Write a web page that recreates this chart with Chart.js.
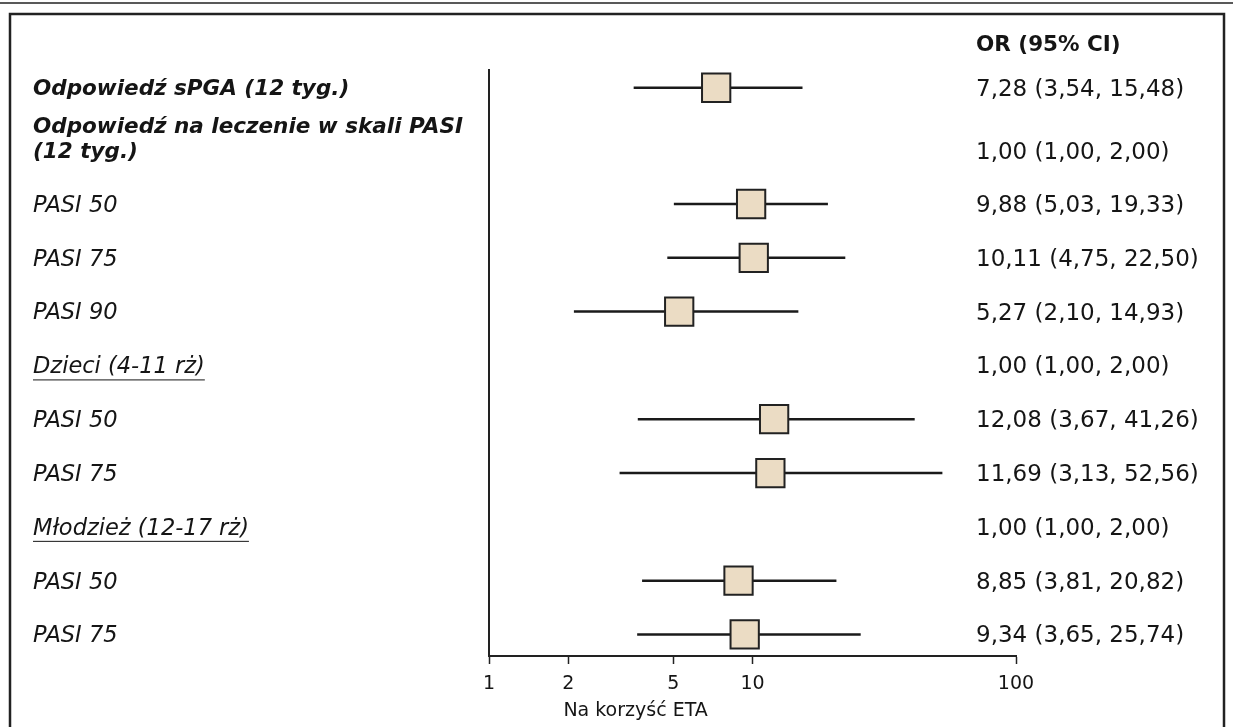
<!DOCTYPE html>
<html>
<head>
<meta charset="utf-8">
<script src="https://cdn.jsdelivr.net/npm/chart.js@4/dist/chart.umd.min.js"></script>
<style>
body { margin: 0; background: #fff; }
#wrap { width: 1233px; height: 727px; }
</style>
</head>
<body>
<div id="wrap"><canvas id="chart" width="1233" height="727"></canvas></div>
<script>
// rows, top to bottom
const rowLabels = [
    ["Odpowiedź sPGA (12 tyg.)"],
    ["Odpowiedź na leczenie w skali PASI", "(12 tyg.)"],
    ["PASI 50"],
    ["PASI 75"],
    ["PASI 90"],
    ["Dzieci (4-11 rż)"],
    ["PASI 50"],
    ["PASI 75"],
    ["Młodzież (12-17 rż)"],
    ["PASI 50"],
    ["PASI 75"]
];
const labelStyles = ["bold", "bold", "italic", "italic", "italic", "under", "italic", "italic", "under", "italic", "italic"];
const rowPos = [0, 1.17, 2.16, 3.16, 4.16, 5.16, 6.16, 7.16, 8.16, 9.16, 10.16];

const orValues = [7.28, null, 9.88, 10.11, 5.27, null, 12.08, 11.69, null, 8.85, 9.34];
const ciLow = [3.54, null, 5.03, 4.75, 2.10, null, 3.67, 3.13, null, 3.81, 3.65];
const ciHigh = [15.48, null, 19.33, 22.50, 14.93, null, 41.26, 52.56, null, 20.82, 25.74];
const orText = [
    "7,28 (3,54, 15,48)",
    "1,00 (1,00, 2,00)",
    "9,88 (5,03, 19,33)",
    "10,11 (4,75, 22,50)",
    "5,27 (2,10, 14,93)",
    "1,00 (1,00, 2,00)",
    "12,08 (3,67, 41,26)",
    "11,69 (3,13, 52,56)",
    "1,00 (1,00, 2,00)",
    "8,85 (3,81, 20,82)",
    "9,34 (3,65, 25,74)"
];
const orHeader = "OR (95% CI)";
const xTicks = [1, 2, 5, 10, 100];
const xTitle = "Na korzyść ETA";

const FONT = "'DejaVu Sans', Verdana, sans-serif";
const INK = "#151515";

// one line dataset per confidence interval
const whiskers = [];
for (let i = 0; i < orValues.length; i++) {
    if (orValues[i] === null) continue;
    whiskers.push({
        type: "line",
        data: [{x: ciLow[i], y: rowPos[i]}, {x: ciHigh[i], y: rowPos[i]}],
        borderColor: "#1a1a1a",
        borderWidth: 2.5,
        pointRadius: 0,
        fill: false,
        order: 1
    });
}

const squares = {
    type: "scatter",
    data: orValues.map((v, i) => v === null ? null : ({x: v, y: rowPos[i]})).filter(p => p),
    pointStyle: "rect",
    pointRadius: 20,
    pointHoverRadius: 20,
    backgroundColor: "#ebdcc4",
    borderColor: "#222",
    borderWidth: 2,
    order: 0
};

const framePlugin = {
    id: "frame",
    beforeDraw(chart) {
        const c = chart.ctx;
        c.save();
        c.fillStyle = "#fff";
        c.fillRect(0, 0, chart.width, chart.height);
        c.strokeStyle = "#222";
        c.lineWidth = 1.5;
        c.beginPath();
        c.moveTo(0, 3);
        c.lineTo(chart.width, 3);
        c.stroke();
        c.lineWidth = 2.5;
        c.strokeRect(10, 14, chart.width - 19, chart.height + 20);
        c.restore();
    }
};

const textPlugin = {
    id: "rowText",
    afterDraw(chart) {
        const c = chart.ctx;
        const ys = chart.scales.y;
        const xs = chart.scales.x;
        c.save();
        c.fillStyle = INK;
        c.strokeStyle = INK;
        c.textBaseline = "middle";
        c.textAlign = "left";

        for (let i = 0; i < rowLabels.length; i++) {
            const y = ys.getPixelForValue(rowPos[i]);
            const lines = rowLabels[i];
            const st = labelStyles[i];
            c.font = st === "bold" ? "italic bold 21.5px " + FONT : "italic 22.5px " + FONT;
            lines.forEach((ln, k) => {
                const ly = y + 2 - (lines.length - 1 - k) * 25;
                c.fillText(ln, 33, ly);
                if (st === "under") {
                    const w = c.measureText(ln).width;
                    c.lineWidth = 1;
                    c.beginPath();
                    c.moveTo(33, ly + 12.5);
                    c.lineTo(33 + w, ly + 12.5);
                    c.stroke();
                }
            });

            c.font = "23px " + FONT;
            c.fillText(orText[i], 976, y + 2);
        }

        c.font = "bold 21.5px " + FONT;
        c.fillText(orHeader, 976, ys.getPixelForValue(-0.78));

        c.font = "19px " + FONT;
        c.textAlign = "center";
        c.fillText(xTitle, xs.getPixelForValue(3.6), 711);
        c.restore();
    }
};

const ctx = document.getElementById("chart").getContext("2d");

const chart = new Chart(ctx, {
    type: "scatter",
    data: {
        datasets: [squares, ...whiskers]
    },
    options: {
        responsive: false,
        animation: false,
        events: [],
        layout: {
            padding: {left: 489, right: 217, top: 70, bottom: 0}
        },
        plugins: {
            legend: {display: false},
            tooltip: {enabled: false}
        },
        scales: {
            x: {
                type: "logarithmic",
                min: 1,
                max: 100,
                afterBuildTicks: (s) => { s.ticks = xTicks.map(v => ({value: v})); },
                afterFit: (s) => { s.height = 71; },
                grid: {
                    display: true,
                    drawOnChartArea: false,
                    drawTicks: true,
                    tickLength: 8,
                    tickWidth: 1.5,
                    tickColor: "#222"
                },
                border: {display: true, color: "#222", width: 2},
                ticks: {
                    color: INK,
                    font: {family: FONT, size: 19},
                    padding: 9,
                    maxRotation: 0,
                    autoSkip: false,
                    callback: (v) => String(v)
                }
            },
            y: {
                type: "linear",
                reverse: true,
                min: -0.33,
                max: 10.56,
                afterFit: (s) => { s.width = 0; },
                grid: {display: false},
                border: {display: true, color: "#222", width: 2},
                ticks: {display: false}
            }
        }
    },
    plugins: [framePlugin, textPlugin]
});
</script>
</body>
</html>
